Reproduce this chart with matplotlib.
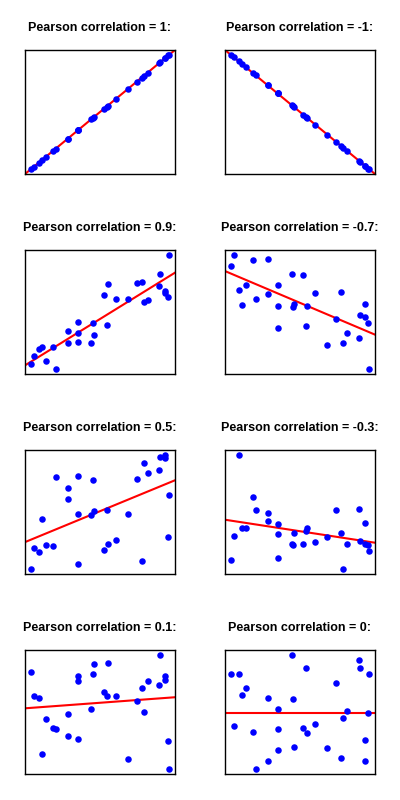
import numpy as np
import matplotlib
matplotlib.use("Agg")
import matplotlib.pyplot as plt

titles = ["Pearson correlation = 1:", "Pearson correlation = -1:",
          "Pearson correlation = 0.9:", "Pearson correlation = -0.7:",
          "Pearson correlation = 0.5:", "Pearson correlation = -0.3:",
          "Pearson correlation = 0.1:", "Pearson correlation = 0:"]

x_common = [30,40,55,63,75,97,106,142,142,172,172,172,213,217,220,250,259,262,286,322,349,364,370,382,418,421,436,436,445,448]
x_right = [31,40,55,64,76,97,106,142,142,172,172,172,214,217,220,250,259,262,286,322,349,364,370,382,418,421,436,436,445,448]

y_r1 = x_common
y_rm1 = [-v for v in x_right]
y_09 = [360,337,316,310,352,310,376,262,298,235,268,295,298,238,274,151,244,118,163,163,115,112,172,166,124,88,139,145,157,31]
y_m07 = [64,31,136,181,121,46,163,43,148,121,184,253,88,187,178,91,247,184,145,304,226,142,298,268,283,214,220,178,238,376]
y_05 = [376,313,325,226,304,307,97,130,163,94,211,361,214,106,199,319,196,301,289,211,103,352,55,85,76,37,31,40,280,151]
y_m03 = [349,277,31,253,253,157,196,208,232,241,271,343,301,304,268,301,262,253,295,280,196,268,376,301,193,292,238,301,304,322]
y_01 = [82,154,160,331,226,253,256,211,277,94,109,286,193,88,58,142,154,55,154,346,169,130,202,109,121,31,94,106,292,376]
y_00 = [88,247,88,151,130,265,376,160,352,193,256,319,31,163,310,253,70,268,241,313,115,343,223,199,46,70,289,352,208,88]

panels = [(x_common, y_r1, False), (x_right, y_rm1, False),
          (x_common, y_09, True), (x_right, y_m07, True),
          (x_common, y_05, True), (x_right, y_m03, True),
          (x_common, y_01, True), (x_right, y_00, True)]

fig = plt.figure(figsize=(4, 8), dpi=100)
for i, (xs, ys, inv) in enumerate(panels):
    xs = np.array(xs, float)
    ys = np.array(ys, float)
    if inv:
        ys = 400 - ys
    row, col = divmod(i, 2)
    left = 25 / 400 if col == 0 else 225 / 400
    top = 50 + 200 * row
    ax = fig.add_axes([left, 1 - (top + 124) / 800, 150 / 400, 124 / 800])
    xr = xs.max() - xs.min(); yr = ys.max() - ys.min()
    ax.set_xlim(xs.min() - 0.04 * xr, xs.max() + 0.04 * xr)
    ax.set_ylim(ys.min() - 0.04 * yr, ys.max() + 0.04 * yr)
    ax.scatter(xs, ys, s=22, color="#0000ff", zorder=3, linewidths=0)
    b, a = np.polyfit(xs, ys, 1)
    if i == 7:
        b = 0.0; a = ys.mean()
    xl = np.array(ax.get_xlim())
    ax.plot(xl, a + b * xl, color="#ff0000", lw=1.5, zorder=2)
    ax.set_xlim(xl)
    ax.set_xticks([]); ax.set_yticks([])
    for s in ax.spines.values():
        s.set_linewidth(1.0)
    ax.set_title(titles[i], fontsize=9, fontweight="bold", pad=14,
                 family=["Liberation Sans", "DejaVu Sans"])

fig.savefig("out.png", dpi=100)
